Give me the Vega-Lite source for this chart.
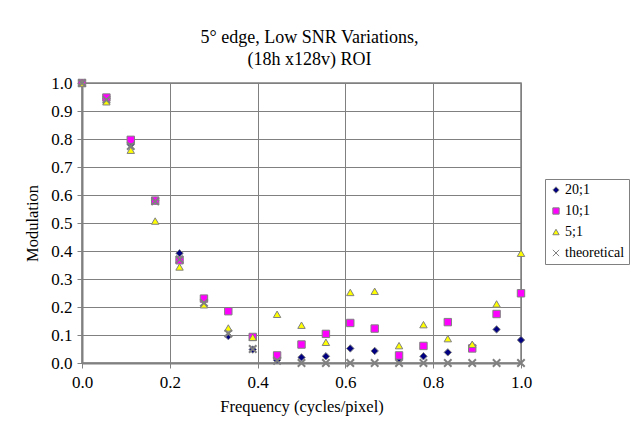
{
  "$schema": "https://vega.github.io/schema/vega-lite/v6.json",
  "width": 439,
  "height": 280,
  "autosize": "none",
  "padding": {"left": 82, "top": 83, "right": 115, "bottom": 66},
  "background": "white",
  "title": {
    "text": ["5° edge, Low SNR Variations,", "(18h x128v) ROI"],
    "font": "Liberation Serif",
    "fontSize": 18,
    "fontWeight": "normal",
    "color": "black",
    "offset": 5,
    "dx": 8,
    "lineHeight": 22,
    "anchor": "middle"
  },
  "config": {
    "font": "Liberation Serif",
    "view": {"stroke": "#808080", "strokeWidth": 1.5},
    "axis": {
      "domainColor": "#808080",
      "domainWidth": 2,
      "gridColor": "#808080",
      "gridOpacity": 1,
      "gridWidth": 1,
      "tickColor": "#808080",
      "tickSize": 5,
      "labelFont": "Liberation Serif",
      "labelFontSize": 17,
      "labelColor": "black",
      "titleFont": "Liberation Serif",
      "titleFontSize": 16.5,
      "titleFontWeight": "normal",
      "titleColor": "black"
    },
    "legend": {
      "labelFont": "Liberation Serif",
      "labelFontSize": 14
    }
  },
  "data": {
    "values": [
      {"f": 0, "m": 1.0, "s": "20;1"},
      {"f": 0.0556, "m": 0.945, "s": "20;1"},
      {"f": 0.1111, "m": 0.78, "s": "20;1"},
      {"f": 0.1667, "m": 0.58, "s": "20;1"},
      {"f": 0.2222, "m": 0.392, "s": "20;1"},
      {"f": 0.2778, "m": 0.224, "s": "20;1"},
      {"f": 0.3333, "m": 0.096, "s": "20;1"},
      {"f": 0.3889, "m": 0.048, "s": "20;1"},
      {"f": 0.4444, "m": 0.01, "s": "20;1"},
      {"f": 0.5, "m": 0.02, "s": "20;1"},
      {"f": 0.5556, "m": 0.024, "s": "20;1"},
      {"f": 0.6111, "m": 0.052, "s": "20;1"},
      {"f": 0.6667, "m": 0.043, "s": "20;1"},
      {"f": 0.7222, "m": 0.014, "s": "20;1"},
      {"f": 0.7778, "m": 0.024, "s": "20;1"},
      {"f": 0.8333, "m": 0.038, "s": "20;1"},
      {"f": 0.8889, "m": 0.062, "s": "20;1"},
      {"f": 0.9444, "m": 0.12, "s": "20;1"},
      {"f": 1, "m": 0.082, "s": "20;1"},
      {"f": 0, "m": 1.0, "s": "10;1"},
      {"f": 0.0556, "m": 0.948, "s": "10;1"},
      {"f": 0.1111, "m": 0.797, "s": "10;1"},
      {"f": 0.1667, "m": 0.58, "s": "10;1"},
      {"f": 0.2222, "m": 0.367, "s": "10;1"},
      {"f": 0.2778, "m": 0.23, "s": "10;1"},
      {"f": 0.3333, "m": 0.185, "s": "10;1"},
      {"f": 0.3889, "m": 0.093, "s": "10;1"},
      {"f": 0.4444, "m": 0.027, "s": "10;1"},
      {"f": 0.5, "m": 0.066, "s": "10;1"},
      {"f": 0.5556, "m": 0.104, "s": "10;1"},
      {"f": 0.6111, "m": 0.143, "s": "10;1"},
      {"f": 0.6667, "m": 0.123, "s": "10;1"},
      {"f": 0.7222, "m": 0.027, "s": "10;1"},
      {"f": 0.7778, "m": 0.061, "s": "10;1"},
      {"f": 0.8333, "m": 0.146, "s": "10;1"},
      {"f": 0.8889, "m": 0.052, "s": "10;1"},
      {"f": 0.9444, "m": 0.175, "s": "10;1"},
      {"f": 1, "m": 0.249, "s": "10;1"},
      {"f": 0, "m": 1.0, "s": "5;1"},
      {"f": 0.0556, "m": 0.933, "s": "5;1"},
      {"f": 0.1111, "m": 0.76, "s": "5;1"},
      {"f": 0.1667, "m": 0.507, "s": "5;1"},
      {"f": 0.2222, "m": 0.343, "s": "5;1"},
      {"f": 0.2778, "m": 0.208, "s": "5;1"},
      {"f": 0.3333, "m": 0.125, "s": "5;1"},
      {"f": 0.3889, "m": 0.092, "s": "5;1"},
      {"f": 0.4444, "m": 0.174, "s": "5;1"},
      {"f": 0.5, "m": 0.135, "s": "5;1"},
      {"f": 0.5556, "m": 0.074, "s": "5;1"},
      {"f": 0.6111, "m": 0.252, "s": "5;1"},
      {"f": 0.6667, "m": 0.256, "s": "5;1"},
      {"f": 0.7222, "m": 0.062, "s": "5;1"},
      {"f": 0.7778, "m": 0.137, "s": "5;1"},
      {"f": 0.8333, "m": 0.087, "s": "5;1"},
      {"f": 0.8889, "m": 0.067, "s": "5;1"},
      {"f": 0.9444, "m": 0.211, "s": "5;1"},
      {"f": 1, "m": 0.392, "s": "5;1"},
      {"f": 0, "m": 1.0, "s": "theoretical"},
      {"f": 0.0556, "m": 0.94, "s": "theoretical"},
      {"f": 0.1111, "m": 0.775, "s": "theoretical"},
      {"f": 0.1667, "m": 0.577, "s": "theoretical"},
      {"f": 0.2222, "m": 0.37, "s": "theoretical"},
      {"f": 0.2778, "m": 0.215, "s": "theoretical"},
      {"f": 0.3333, "m": 0.105, "s": "theoretical"},
      {"f": 0.3889, "m": 0.05, "s": "theoretical"},
      {"f": 0.4444, "m": 0.008, "s": "theoretical"},
      {"f": 0.5, "m": 0, "s": "theoretical"},
      {"f": 0.5556, "m": 0, "s": "theoretical"},
      {"f": 0.6111, "m": 0, "s": "theoretical"},
      {"f": 0.6667, "m": 0, "s": "theoretical"},
      {"f": 0.7222, "m": 0, "s": "theoretical"},
      {"f": 0.7778, "m": 0, "s": "theoretical"},
      {"f": 0.8333, "m": 0, "s": "theoretical"},
      {"f": 0.8889, "m": 0, "s": "theoretical"},
      {"f": 0.9444, "m": 0, "s": "theoretical"},
      {"f": 1, "m": 0, "s": "theoretical"}
    ]
  },
  "mark": {"type": "point", "filled": true, "stroke": "#808080", "opacity": 1, "size": 55, "clip": false},
  "encoding": {
    "x": {
      "field": "f",
      "type": "quantitative",
      "scale": {"domain": [0, 1], "nice": false},
      "axis": {
        "values": [0, 0.2, 0.4, 0.6, 0.8, 1],
        "title": "Frequency (cycles/pixel)",
        "labelPadding": 6,
        "titlePadding": 8,
        "labelFlush": false
      }
    },
    "y": {
      "field": "m",
      "type": "quantitative",
      "scale": {"domain": [0, 1], "nice": false},
      "axis": {
        "values": [0, 0.1, 0.2, 0.3, 0.4, 0.5, 0.6, 0.7, 0.8, 0.9, 1],
        "title": "Modulation",
        "labelPadding": 5,
        "titlePadding": 10,
        "labelFlush": false
      }
    },
    "color": {
      "field": "s",
      "type": "nominal",
      "sort": null,
      "scale": {
        "domain": ["20;1", "10;1", "5;1", "theoretical"],
        "range": ["#000080", "#FF00FF", "#FFFF00", "#808080"]
      },
      "legend": {
        "title": null,
        "orient": "none",
        "legendX": 463,
        "legendY": 96,
        "strokeColor": "#808080",
        "padding": 4,
        "labelColor": "black",
        "symbolSize": 40,
        "symbolStrokeColor": "#808080",
        "symbolStrokeWidth": 1,
        "rowPadding": 7,
        "labelOffset": 2
      }
    },
    "shape": {
      "field": "s",
      "type": "nominal",
      "sort": null,
      "scale": {
        "domain": ["20;1", "10;1", "5;1", "theoretical"],
        "range": ["diamond", "square", "triangle-up", "M-1,-1L1,1M-1,1L1,-1"]
      },
      "legend": null
    },
    "strokeWidth": {
      "condition": {"test": "datum.s === 'theoretical'", "value": 2},
      "value": 1
    }
  }
}
